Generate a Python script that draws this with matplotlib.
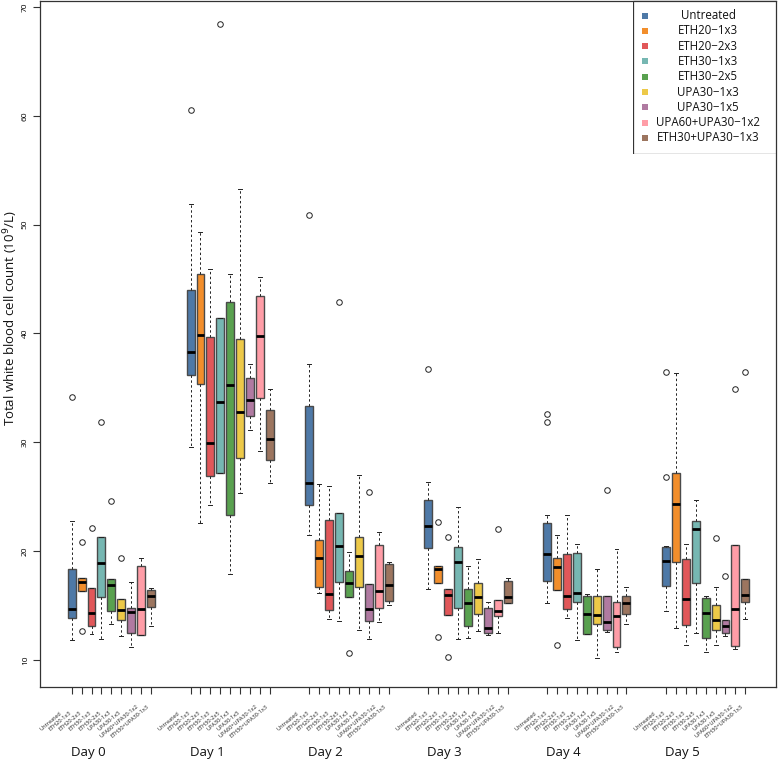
import matplotlib
matplotlib.use("Agg")
import matplotlib.pyplot as plt
import matplotlib.transforms as mtransforms
from matplotlib.patches import Rectangle

plt.rcParams['font.family'] = ['Open Sans', 'DejaVu Sans']

days = ["Day 0", "Day 1", "Day 2", "Day 3", "Day 4", "Day 5"]
groups = ["Untreated", "ETH20\u22121x3", "ETH20\u22122x3", "ETH30\u22121x3", "ETH30\u22122x5",
          "UPA30\u22121x3", "UPA30\u22121x5", "UPA60+UPA30\u22121x2", "ETH30+UPA30\u22121x3"]
colors = ["#4e79a7", "#f28e2b", "#e15759", "#76b7b2", "#59a14f",
          "#edc948", "#b07aa1", "#ff9da7", "#9c755f"]

# rows = days, columns = groups
whishi = [
    [22.8, 17.5, 16.6, 21.3, 17.4, 15.6, 17.2, 19.4, 16.6],
    [51.9, 49.3, 45.9, 41.4, 45.5, 53.3, 37.2, 45.2, 34.9],
    [37.2, 26.2, 26.0, 23.5, 19.9, 27.0, 17.0, 21.8, 19.0],
    [26.4, 18.6, 16.5, 24.1, 18.6, 19.3, 15.3, 15.5, 17.5],
    [23.3, 21.5, 23.3, 20.7, 16.1, 18.4, 15.9, 20.2, 16.7],
    [20.5, 36.4, 20.7, 24.7, 15.9, 16.7, 13.7, 20.6, 17.4],
]
q3 = [
    [18.4, 17.5, 16.6, 21.3, 17.4, 15.6, 14.8, 18.6, 16.4],
    [44.0, 45.5, 39.7, 41.4, 42.9, 39.5, 35.9, 43.4, 33.0],
    [33.3, 21.0, 22.9, 23.5, 18.2, 21.3, 17.0, 20.6, 18.8],
    [24.7, 18.6, 16.5, 20.4, 16.5, 17.1, 14.8, 15.5, 17.3],
    [22.6, 19.4, 19.7, 19.8, 15.9, 15.9, 15.9, 15.3, 15.9],
    [20.4, 27.2, 19.3, 22.8, 15.7, 15.1, 13.7, 20.6, 17.4],
]
med = [
    [14.7, 17.2, 14.3, 18.9, 16.9, 14.6, 14.4, 14.7, 15.9],
    [38.3, 39.9, 29.9, 33.7, 35.3, 32.8, 33.9, 39.8, 30.3],
    [26.3, 19.4, 16.1, 20.5, 17.1, 19.6, 14.7, 16.3, 16.9],
    [22.3, 18.4, 16.0, 19.0, 15.2, 15.8, 12.9, 14.5, 15.8],
    [19.7, 18.5, 15.9, 16.2, 14.2, 14.1, 13.5, 14.0, 15.2],
    [19.1, 24.3, 15.6, 22.0, 14.3, 13.7, 13.1, 14.7, 16.0],
]
q1 = [
    [13.9, 16.3, 13.1, 15.8, 14.5, 13.7, 12.5, 12.3, 14.9],
    [36.2, 35.4, 26.9, 27.2, 23.3, 28.6, 32.4, 34.1, 28.4],
    [24.2, 16.7, 14.6, 17.2, 15.8, 16.7, 13.6, 14.8, 15.4],
    [20.3, 17.1, 14.1, 14.8, 13.1, 14.2, 12.5, 14.0, 15.2],
    [17.3, 16.4, 14.7, 15.3, 12.4, 13.3, 12.8, 11.2, 14.2],
    [16.8, 19.0, 13.2, 17.1, 12.0, 12.8, 12.5, 11.3, 15.3],
]
whislo = [
    [11.8, 16.3, 12.4, 11.9, 13.3, 12.2, 11.2, 12.3, 13.1],
    [29.6, 22.6, 24.2, 27.2, 17.9, 25.3, 31.1, 29.2, 26.3],
    [21.5, 16.2, 13.8, 13.6, 15.8, 12.8, 11.9, 13.5, 15.1],
    [16.5, 17.1, 14.1, 11.9, 12.0, 12.7, 12.3, 12.5, 15.2],
    [15.2, 16.4, 13.9, 11.8, 12.4, 10.2, 12.6, 10.7, 13.3],
    [14.5, 12.9, 11.4, 12.5, 10.7, 11.4, 12.2, 11.0, 13.8],
]
fliers = [
    [[34.2], [20.8, 12.7], [22.1], [31.9], [24.6], [19.4], [], [], []],
    [[60.5], [], [], [68.4], [], [], [], [], []],
    [[50.9], [], [], [42.9], [10.6], [], [25.4], [], []],
    [[36.7], [22.7, 12.1], [21.3, 10.3], [], [], [], [], [22.0], []],
    [[32.6, 31.9], [11.4], [], [], [], [], [25.6], [], []],
    [[36.5, 26.8], [], [], [], [], [21.2], [17.7], [34.9], [36.5]],
]

stats = []
positions = []
box_colors = []
for d in range(len(days)):
    for g in range(len(groups)):
        stats.append(dict(whislo=whislo[d][g], q1=q1[d][g], med=med[d][g],
                          q3=q3[d][g], whishi=whishi[d][g], fliers=fliers[d][g]))
        positions.append(d * 12 + g + 1)
        box_colors.append(colors[g])

W, H = 778, 762
fig = plt.figure(figsize=(W / 100, H / 100), dpi=100)
ax = fig.add_axes([40 / W, 1 - 687 / H, 736 / W, 686 / H])

bp = ax.bxp(stats, positions=positions, widths=0.8, patch_artist=True,
            capwidths=0.4, manage_ticks=False,
            boxprops=dict(edgecolor="#4a4a4a", linewidth=1.0),
            medianprops=dict(color="black", linewidth=2.0),
            whiskerprops=dict(color="#222222", linewidth=0.7, linestyle=(0, (2.5, 2.5))),
            capprops=dict(color="#222222", linewidth=0.7),
            flierprops=dict(marker="o", markersize=4, markerfacecolor="none",
                            markeredgecolor="#222222", markeredgewidth=0.7))
for patch, c in zip(bp["boxes"], box_colors):
    patch.set_facecolor(c)

ax.set_xlim(-2.2, 72.1)
ax.set_ylim(7.52, 70.55)
ax.set_yticks([10, 20, 30, 40, 50, 60, 70])
ax.set_yticklabels(["10", "20", "30", "40", "50", "60", "70"], rotation=90,
                   va="center", fontsize=6)
ax.set_xticks(positions)
ax.set_xticklabels([])
ax.tick_params(axis="both", length=5, width=0.8, color="#333333")
ax.tick_params(axis="y", pad=3)
for s in ax.spines.values():
    s.set_linewidth(0.9)
    s.set_color("#333333")

trans = mtransforms.blended_transform_factory(ax.transData, ax.transAxes)
for d in range(len(days)):
    for g in range(len(groups)):
        ax.text(d * 12 + g + 1 - 2.15, -0.0496, groups[g].replace("\u2212", "-"),
                transform=trans, rotation=40, ha="center", va="center",
                fontsize=4.1, color="#222222", clip_on=False)
    ax.text(d * 12 + 1 - 0.1, -0.096, days[d], transform=trans, ha="left",
            va="center", fontsize=9.5, color="#111111", clip_on=False)

fig.text(11 / W, 1 - 318 / H, "Total white blood cell count (10$^9$/L)",
         rotation=90, ha="center", va="center", fontsize=9.5, color="#111111")

# legend box drawn in figure pixels
leg_ax = fig.add_axes([633 / W, 1 - 154 / H, 143 / W, 154 / H])
leg_ax.set_xlim(633, 776)
leg_ax.set_ylim(154, 0)
leg_ax.axis("off")
leg_ax.add_patch(Rectangle((633, 0.5), 142.5, 153, facecolor="white",
                           edgecolor="#333333", linewidth=0.9))
for i, (name, c) in enumerate(zip(groups, colors)):
    yy = 15.5 + i * 15.3
    leg_ax.scatter([645], [yy], marker="s", s=14, color=c, linewidths=0)
    leg_ax.text(708, yy, name, ha="center", va="center", fontsize=8.3, color="#111111")

fig.savefig("out.png", dpi=100)
